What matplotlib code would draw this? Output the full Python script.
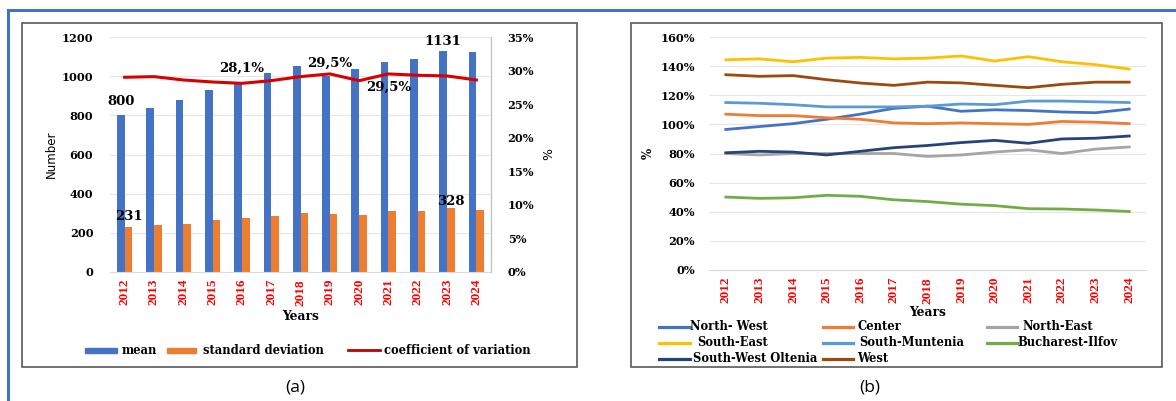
import matplotlib
matplotlib.use("Agg")
import matplotlib.pyplot as plt
from matplotlib.patches import Rectangle
from matplotlib.lines import Line2D
import numpy as np

years = ["2012", "2013", "2014", "2015", "2016", "2017", "2018", "2019",
         "2020", "2021", "2022", "2023", "2024"]
mean_vals = [800, 839, 878, 928, 967, 1015, 1053, 1000, 1035, 1072, 1090, 1131, 1125]
std_vals = [231, 242, 246, 266, 278, 285, 301, 296, 293, 313, 313, 328, 315]
cv_vals = [29.0, 29.1, 28.6, 28.3, 28.1, 28.5, 29.1, 29.5, 28.5, 29.5, 29.3, 29.2, 28.6]
left_legend = ["mean", "standard deviation", "coefficient of variation"]

regions = ["North- West", "Center", "North-East", "South-East", "South-Muntenia",
           "Bucharest-Ilfov", "South-West Oltenia", "West"]
north_west = [96.5, 98.5, 100.5, 103.5, 107, 111, 112.5, 109, 110, 109.5, 108.5, 108, 110.5]
center = [107, 106, 106, 104.5, 103.5, 101, 100.5, 101, 100.5, 100, 102, 101.5, 100.5]
north_east = [80, 79, 80, 80, 80, 80, 78, 79, 81, 82.5, 80, 83, 84.5]
south_east = [144.3, 145, 143, 145.5, 146, 145, 145.5, 147, 143.5, 146.5, 143, 141, 138]
south_muntenia = [115, 114.5, 113.5, 112, 112, 112, 112.5, 114, 113.5, 116, 116, 115.5, 115]
bucharest_ilfov = [50.1, 49.2, 49.6, 51.3, 50.6, 48.2, 47, 45.2, 44.2, 42.1, 41.9, 41.2, 40.2]
sw_oltenia = [80.5, 81.5, 81, 79, 81.5, 84, 85.5, 87.5, 89, 87, 90, 90.5, 92]
west = [134.1, 133, 133.5, 130.7, 128.4, 126.8, 129, 128.5, 126.8, 125.2, 127.5, 129, 129]
region_series = [north_west, center, north_east, south_east, south_muntenia,
                 bucharest_ilfov, sw_oltenia, west]
region_colors = ["#4472C4", "#ED7D31", "#A5A5A5", "#FFC000", "#5B9BD5",
                 "#70AD47", "#264478", "#9E480E"]

W, H = 1176, 401
fig = plt.figure(figsize=(W / 100, H / 100), dpi=100)
fig.patch.set_facecolor("white")


def box(x0, y0, x1, y1):
    return [x0 / W, 1 - y1 / H, (x1 - x0) / W, (y1 - y0) / H]


def fx(x):
    return x / W


def fy(y):
    return 1 - y / H


SERIF = "DejaVu Serif"
TSERIF = "Liberation Serif"

# outer blue frame
fig.add_artist(Line2D([fx(8), 1.0], [fy(10), fy(10)], color="#4472C4", lw=2.2))
fig.add_artist(Line2D([fx(8), fx(8)], [fy(10), 0.0], color="#4472C4", lw=2.2))

# chart boxes
for (x0, x1) in [(22, 577), (631, 1162)]:
    fig.add_artist(Rectangle((fx(x0), fy(367)), fx(x1 - x0), (367 - 23) / H,
                             fill=False, edgecolor="#595959", lw=1.2))


def style_yticks(a, size):
    for lab in a.get_yticklabels():
        lab.set_fontfamily(SERIF)
        lab.set_fontweight("bold")
        lab.set_fontsize(size)


# ---------- Left chart ----------
ax = fig.add_axes(box(110, 37, 491, 272))
x = np.arange(len(years))
bw = 0.26
ax.bar(x - bw / 2, mean_vals, width=bw, color="#4472C4", zorder=2)
ax.bar(x + bw / 2, std_vals, width=bw, color="#ED7D31", zorder=2)
ax.set_xlim(-0.5, len(years) - 0.5)
ax.set_ylim(0, 1200)
ax.set_yticks(range(0, 1201, 200))
ax.yaxis.grid(True, color="#E6E6E6", lw=0.8, zorder=0)
ax.set_axisbelow(True)
for s in ["top", "left"]:
    ax.spines[s].set_visible(False)
ax.spines["bottom"].set_color("#D9D9D9")
ax.spines["right"].set_color("#BFBFBF")
ax.tick_params(axis="both", length=0)
ax.set_xticks(x)
ax.set_xticklabels(years, rotation=90, color="#FF0000", fontfamily=TSERIF,
                   fontweight="bold", fontsize=9.5)
ax.tick_params(axis="x", pad=5)
style_yticks(ax, 8.2)
ax.tick_params(axis="y", pad=12)
ax.set_ylabel("Number", fontsize=8.5, labelpad=3)
ax.set_xlabel("Years", fontfamily=SERIF, fontweight="bold", fontsize=8.8, labelpad=3)

ax2 = ax.twinx()
ax2.plot(x, cv_vals, color="#D80000", lw=2.2, zorder=3)
ax2.set_ylim(0, 35)
ax2.set_yticks(range(0, 36, 5))
ax2.set_yticklabels([f"{v}%" for v in range(0, 36, 5)])
for s in ["top", "left", "bottom"]:
    ax2.spines[s].set_visible(False)
ax2.spines["right"].set_color("#BFBFBF")
ax2.tick_params(axis="y", length=0, pad=12)
style_yticks(ax2, 8.2)
ax2.set_ylabel("%", fontsize=9, labelpad=6, rotation=90)

lab_kw = dict(fontfamily=SERIF, fontweight="bold", fontsize=9.5, ha="center", zorder=5)
ax.annotate("800", (x[0] - bw / 2, mean_vals[0]), xytext=(0, 5), textcoords="offset points",
            va="bottom", **lab_kw)
ax.annotate("231", (x[0] + bw / 2, std_vals[0]), xytext=(0, 3), textcoords="offset points",
            va="bottom", **lab_kw)
ax.annotate("1131", (x[11] - bw / 2, mean_vals[11]), xytext=(0, 2), textcoords="offset points",
            va="bottom", **lab_kw)
ax.annotate("328", (x[11] + bw / 2, std_vals[11]), xytext=(0, 0), textcoords="offset points",
            va="bottom", **lab_kw)
ax2.annotate("28,1%", (x[4], cv_vals[4]), xytext=(0, 6), textcoords="offset points",
             va="bottom", **lab_kw)
ax2.annotate("29,5%", (x[7], cv_vals[7]), xytext=(0, 3), textcoords="offset points",
             va="bottom", **lab_kw)
ax2.annotate("29,5%", (x[9], cv_vals[9]), xytext=(0, -5), textcoords="offset points",
             va="top", **lab_kw)

# left legend (manual placement)
leg_y = 350
fig.add_artist(Rectangle((fx(85), fy(leg_y + 2.5)), fx(32), 5 / H, color="#4472C4"))
fig.add_artist(Rectangle((fx(167), fy(leg_y + 2.5)), fx(29), 5 / H, color="#ED7D31"))
fig.add_artist(Line2D([fx(348), fx(380)], [fy(leg_y), fy(leg_y)], color="#C00000", lw=2))
for tx, t in zip([122, 203, 384], left_legend):
    fig.text(fx(tx), fy(leg_y), t, ha="left", va="center", fontfamily=SERIF,
             fontweight="bold", fontsize=8.3)

# ---------- Right chart ----------
bx = fig.add_axes(box(709, 37, 1146, 270))
for vals, col, name in zip(region_series, region_colors, regions):
    bx.plot(x, vals, color=col, lw=2.0, label=name)
bx.set_xlim(-0.5, len(years) - 0.5)
bx.set_ylim(0, 160)
bx.set_yticks(range(0, 161, 20))
bx.set_yticklabels([f"{v}%" for v in range(0, 161, 20)])
bx.yaxis.grid(True, color="#E6E6E6", lw=0.8)
bx.set_axisbelow(True)
for s in ["top", "left", "right"]:
    bx.spines[s].set_visible(False)
bx.spines["bottom"].set_color("#D9D9D9")
bx.tick_params(axis="both", length=0)
bx.set_xticks(x)
bx.set_xticklabels(years, rotation=90, color="#FF0000", fontfamily=TSERIF,
                   fontweight="bold", fontsize=9.5)
bx.tick_params(axis="x", pad=5)
style_yticks(bx, 8.2)
bx.tick_params(axis="y", pad=10)
bx.set_ylabel("%", fontfamily=SERIF, fontweight="bold", fontsize=8.5, labelpad=4)
bx.set_xlabel("Years", fontfamily=SERIF, fontweight="bold", fontsize=8.8, labelpad=2)

# right legend (row-major, manual placement)
col_handle = [(659, 690), (823, 853), (987, 1017)]
col_text = [[690, 858, 1022], [697, 859, 1017], [693, 857]]
row_y = [327, 343, 359]
for i, (name, col) in enumerate(zip(regions, region_colors)):
    r, c = divmod(i, 3)
    h0, h1 = col_handle[c]
    fig.add_artist(Line2D([fx(h0), fx(h1)], [fy(row_y[r]), fy(row_y[r])], color=col, lw=2.3))
    fig.text(fx(col_text[r][c]), fy(row_y[r]), name, ha="left", va="center",
             fontfamily=SERIF, fontweight="bold", fontsize=8.3)

# captions
fig.text(fx(295), fy(388), "(a)", ha="center", va="center", fontsize=12.5, family="Open Sans")
fig.text(fx(870), fy(388), "(b)", ha="center", va="center", fontsize=12.5, family="Open Sans")

fig.savefig("out.png", dpi=100, facecolor="white")
